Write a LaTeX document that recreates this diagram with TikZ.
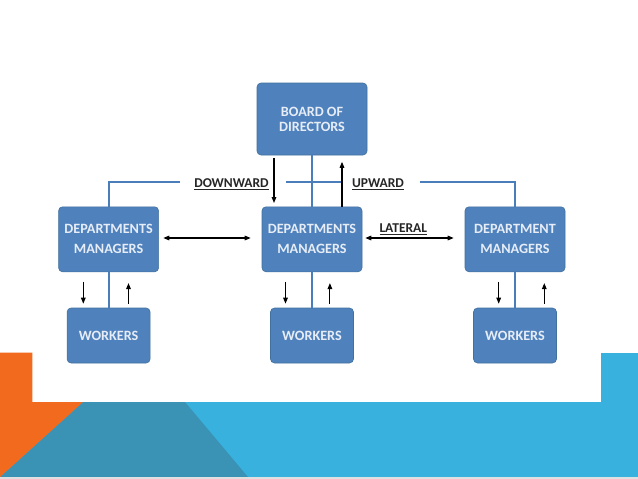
\documentclass[tikz,border=0pt]{standalone}
\usepackage{fontspec}
\setmainfont{Carlito}
\usetikzlibrary{arrows.meta}

\definecolor{boxblue}{HTML}{4F81BD}
\definecolor{boxedge}{HTML}{41719C}
\definecolor{linkblue}{HTML}{4A7EBB}
\definecolor{slideorange}{HTML}{F26A1E}
\definecolor{slideteal}{HTML}{3A93B5}
\definecolor{slidesky}{HTML}{38B1DF}
\definecolor{labelgray}{HTML}{262626}

\newcommand{\ulabel}[1]{\setbox0\hbox{#1}\rlap{\raisebox{-2.6pt}{\rule{\wd0}{1.1pt}}}\box0}

\tikzset{
    unitbox/.style={rectangle, rounded corners=4pt, fill=boxblue, draw=boxedge, line width=.6pt,
        text=white!86!boxblue, align=center, font=\bfseries\fontsize{14.2}{20}\selectfont, inner sep=0pt},
    flowlabel/.style={anchor=base, text=labelgray, font=\bfseries\fontsize{13.5}{16}\selectfont, inner sep=0pt},
    flowarrow/.style={->, line width=1.1pt, black},
    linkline/.style={linkblue, line width=2pt},
}

\begin{document}
\begin{tikzpicture}[x=1pt, y=-1pt, >={Triangle[length=6pt,width=4.6pt]}]
    % Slide background
    \useasboundingbox (0,0) rectangle (638,479);
    \fill[white] (0,0) rectangle (638,479);
    \fill[slidesky] (0,402) rectangle (638,477);
    \fill[slidesky] (601,352.7) rectangle (638,402);
    \fill[slideteal] (83,402) -- (185,402) -- (248,477) -- (0,477) -- cycle;
    \fill[slideorange] (0,352.7) -- (32.3,352.7) -- (32.3,402) -- (83,402) -- (0,477) -- cycle;
    \fill[black!12] (0,477) rectangle (638,479);
    % Board
    \node[unitbox, minimum width=110pt, minimum height=72pt, font=\bfseries\fontsize{14.2}{15}\selectfont] (Board) at (312,119) {BOARD OF\\DIRECTORS};
    % Managers and workers
    \foreach \i/\x/\name in {1/108.6/DEPARTMENTS, 2/312/DEPARTMENTS, 3/515/DEPARTMENT} {
        \node[unitbox, minimum width=100pt, minimum height=65pt] (Manager-\i) at (\x,239.3) {\name\\MANAGERS};
        \node[unitbox, minimum width=83pt, minimum height=55pt] (Workers-\i) at (\x,335.5) {WORKERS};
    }
    % Blue links
    \coordinate (Gap-a) at (180,181.7);
    \coordinate (Gap-b) at (286,181.7);
    \coordinate (Gap-c) at (341,181.7);
    \coordinate (Gap-d) at (420,181.7);
    \draw[linkline] (Board) -- (Manager-2);
    \draw[linkline] (Manager-1.north) |- (Gap-a);
    \draw[linkline] (Gap-b) -- (Gap-c);
    \draw[linkline] (Gap-d) -| (Manager-3.north);
    \foreach \i in {1,2,3} {
        \draw[linkline] (Manager-\i) -- (Workers-\i);
    }
    % Labels
    \node[flowlabel] (Downward) at (231.5,187.8) {\ulabel{DOWNWARD}};
    \node[flowlabel] (Upward) at (378,187.5) {\ulabel{UPWARD}};
    \node[flowlabel] (Lateral) at (403.3,232.7) {\ulabel{LATERAL}};
    % Arrows
    \draw[flowarrow] ([xshift=-38pt,yshift=-3pt]Board.south) -- ([xshift=-38pt,yshift=3.5pt]Manager-2.north);
    \draw[flowarrow] ([xshift=30pt]Manager-2.north) -- ([xshift=30pt,yshift=-6.5pt]Board.south);
    \draw[flowarrow, <->] ([xshift=4.4pt,yshift=1.3pt]Manager-1.east) -- ([xshift=-11pt,yshift=1.3pt]Manager-2.west);
    \draw[flowarrow, <->] ([xshift=3pt,yshift=1.3pt]Manager-2.east) -- ([xshift=-11pt,yshift=1.3pt]Manager-3.west);
    \foreach \i/\dn/\up in {1/-25.3/19.9, 2/-26.5/17.9, 3/-16.3/29.3} {
        \draw[flowarrow] ([xshift=\dn pt,yshift=-9.7pt]Manager-\i.south) -- ([xshift=\dn pt,yshift=4pt]Workers-\i.north);
        \draw[flowarrow] ([xshift=\up pt,yshift=4pt]Workers-\i.north) -- ([xshift=\up pt,yshift=-11pt]Manager-\i.south);
    }
\end{tikzpicture}
\end{document}
